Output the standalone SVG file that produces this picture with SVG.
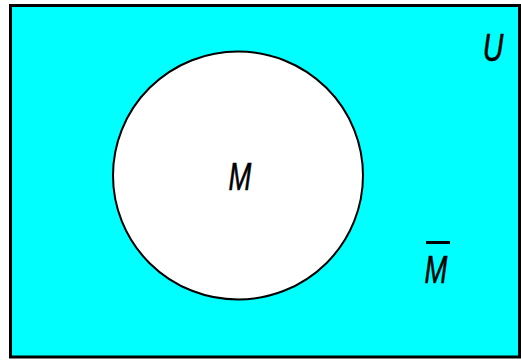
<svg xmlns="http://www.w3.org/2000/svg" width="521" height="361" viewBox="0 0 521 361">
<style>
.lbl{font-family:"Liberation Sans",Arial,sans-serif;font-style:italic;font-size:38px;fill:#000;text-anchor:middle;stroke:#000;stroke-width:0.6}
</style>
<rect x="0" y="0" width="521" height="361" fill="#fff"/>
<g id="universe">
<rect x="10.5" y="5.5" width="509" height="351.5" fill="#00ffff" stroke="#000" stroke-width="3"/>
<text class="lbl" x="493" y="61" transform="translate(493 0) scale(0.75 1) translate(-493 0)">U</text>
</g>
<g id="set-m">
<ellipse cx="238" cy="175.5" rx="125" ry="124" fill="#fff" stroke="#000" stroke-width="2"/>
<text class="lbl" x="240" y="190" transform="translate(240 0) scale(0.72 1) translate(-240 0)">M</text>
</g>
<g id="complement">
<line x1="426" y1="242.5" x2="450" y2="242.5" stroke="#000" stroke-width="3"/>
<text class="lbl" x="436" y="283" transform="translate(436 0) scale(0.72 1) translate(-436 0)">M</text>
</g>
</svg>
